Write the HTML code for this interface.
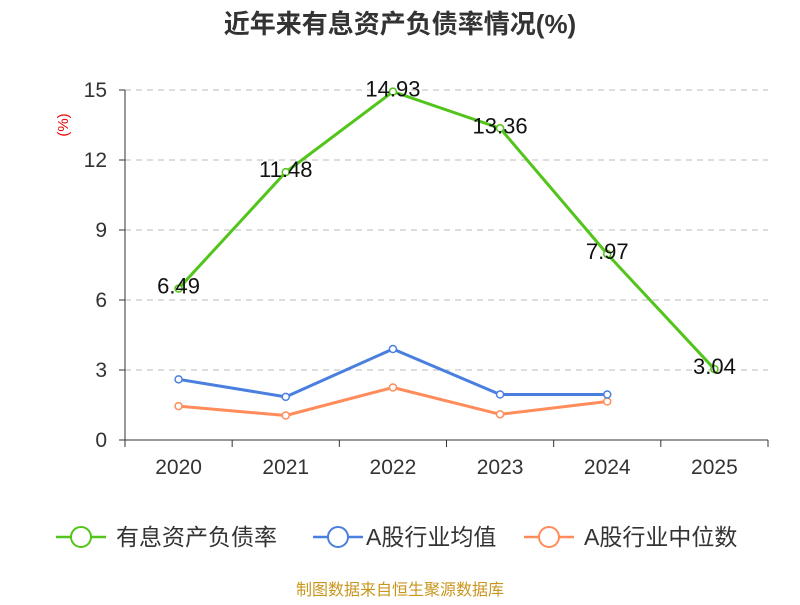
<!DOCTYPE html>
<html><head><meta charset="utf-8"><style>
body{margin:0;background:#fff;}
svg text{font-family:"Liberation Sans","Noto Sans CJK SC",sans-serif;}
</style></head><body>
<svg id="chart" width="800" height="600" xmlns="http://www.w3.org/2000/svg">
<text x="400" y="33" text-anchor="middle" font-size="26" font-weight="bold" fill="#333">近年来有息资产负债率情况(%)</text>
<text x="0" y="0" transform="translate(68,125) rotate(-90)" text-anchor="middle" font-size="15" fill="#e00">(%)</text>
<g id="grid"></g><g id="axes"></g><g id="series"></g>
<g>
<g><line x1="56" y1="537" x2="106" y2="537" stroke="#52c41a" stroke-width="2.5"/><circle cx="81" cy="537" r="10" fill="#fff" stroke="#52c41a" stroke-width="2"/><text x="116" y="545" font-size="23" fill="#333">有息资产负债率</text></g>
<g><line x1="313" y1="537" x2="363" y2="537" stroke="#4a7fe0" stroke-width="2.5"/><circle cx="338" cy="537" r="10" fill="#fff" stroke="#4a7fe0" stroke-width="2"/><text x="366" y="545" font-size="23" fill="#333">A股行业均值</text></g>
<g><line x1="524" y1="537" x2="574" y2="537" stroke="#ff8c5a" stroke-width="2.5"/><circle cx="549" cy="537" r="10" fill="#fff" stroke="#ff8c5a" stroke-width="2"/><text x="584" y="545" font-size="23" fill="#333">A股行业中位数</text></g>
</g>
<text x="400" y="595" text-anchor="middle" font-size="16" fill="#c8961e">制图数据来自恒生聚源数据库</text>
</svg>
<script>
const categories=["2020","2021","2022","2023","2024","2025"];
const debtRatio=[6.49,11.48,14.93,13.36,7.97,3.04];
const industryAvg=[2.6,1.85,3.9,1.95,1.95];
const industryMedian=[1.45,1.05,2.25,1.1,1.65];
const yTicks=[0,3,6,9,12,15];
const NS="http://www.w3.org/2000/svg";
const x0=125,x1=768,y0=440,y1=90,yMax=15;
const bw=(x1-x0)/categories.length;
const xs=i=>x0+bw*(i+0.5);
const ys=v=>y0-(v/yMax)*(y0-y1);
function mk(t,a,p){const e=document.createElementNS(NS,t);for(const k in a)e.setAttribute(k,a[k]);p.appendChild(e);return e;}
const grid=document.getElementById('grid'),axes=document.getElementById('axes'),ser=document.getElementById('series');
yTicks.forEach(v=>{
 if(v>0){const l=mk('line',{x1:x0,x2:x1,y1:ys(v),y2:ys(v),stroke:'#bbb','stroke-dasharray':'6,5'},grid);
 
 }
 const tk=mk('line',{x1:x0-6,x2:x0,y1:ys(v),y2:ys(v),stroke:'#333'},axes);
 
 
 const t=mk('text',{x:x0-18,y:ys(v)+7,'text-anchor':'end','font-size':21,fill:'#333'},axes);t.textContent=v;
 
 
});
const ya=mk('line',{x1:x0,x2:x0,y1:y1,y2:y0,stroke:'#333'},axes);


const xa=mk('line',{x1:x0,x2:x1,y1:y0,y2:y0,stroke:'#333'},axes);


for(let i=0;i<=categories.length;i++){const tk=mk('line',{x1:x0+bw*i,x2:x0+bw*i,y1:y0,y2:y0+7,stroke:'#333'},axes);
 
 }
categories.forEach((c,i)=>{const t=mk('text',{x:xs(i),y:474,'text-anchor':'middle','font-size':21,fill:'#333'},axes);t.textContent=c;
 
 });
function series(vals,color,name,labels){
 const p=mk('polyline',{points:vals.map((v,i)=>xs(i)+','+ys(v)).join(' '),fill:'none',stroke:color,'stroke-width':3,'stroke-linejoin':'round'},ser);
 
 
 vals.forEach((v,i)=>{const c=mk('circle',{cx:xs(i),cy:ys(v),r:3.5,fill:'#fff',stroke:color,'stroke-width':1.5},ser);
  
  
  if(labels){const t=mk('text',{x:xs(i),y:ys(v)+5,'text-anchor':'middle','font-size':22,fill:'#111'},ser);t.textContent=v.toFixed(2);
  
  }
 });
}
series(industryMedian,'#ff8c5a','industry-median',false);
series(industryAvg,'#4a7fe0','industry-avg',false);
series(debtRatio,'#52c41a','debt-ratio',true);
</script>
</body></html>
